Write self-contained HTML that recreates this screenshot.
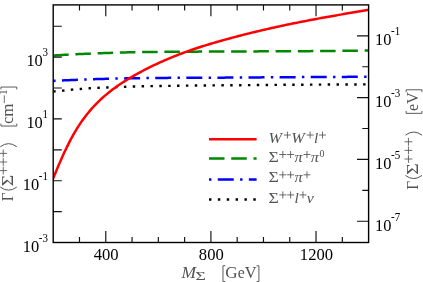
<!DOCTYPE html>
<html><head><meta charset="utf-8"><title>Plot</title>
<style>
html,body{margin:0;padding:0;background:#fff;}
body{width:423px;height:282px;overflow:hidden;position:relative;font-family:"Liberation Serif",serif;}
</style></head><body>
<svg width="423" height="282" viewBox="0 0 423 282" style="position:absolute;left:0;top:0;will-change:transform">
<rect x="0" y="0" width="423" height="282" fill="#fff"/>
<clipPath id="c"><rect x="53.2" y="4.9" width="315.40000000000003" height="237.6"/></clipPath>
<g clip-path="url(#c)" fill="none">
<path d="M53.20,91.50 L54.78,91.37 L56.37,91.23 L57.95,91.09 L59.54,90.94 L61.12,90.79 L62.71,90.63 L64.29,90.46 L65.88,90.28 L67.46,90.10 L69.04,89.91 L70.63,89.74 L72.21,89.58 L73.80,89.44 L75.38,89.31 L76.97,89.18 L78.55,89.06 L80.14,88.94 L81.72,88.83 L83.30,88.72 L84.89,88.61 L86.47,88.50 L88.06,88.40 L89.64,88.30 L91.23,88.21 L92.81,88.11 L94.39,88.02 L95.98,87.93 L97.56,87.85 L99.15,87.78 L100.73,87.71 L102.32,87.64 L103.90,87.58 L105.49,87.52 L107.07,87.46 L108.65,87.41 L110.24,87.35 L111.82,87.30 L113.41,87.24 L114.99,87.19 L116.58,87.13 L118.16,87.07 L119.75,87.01 L121.33,86.95 L122.91,86.89 L124.50,86.83 L126.08,86.78 L127.67,86.72 L129.25,86.67 L130.84,86.63 L132.42,86.58 L134.01,86.53 L135.59,86.49 L137.17,86.44 L138.76,86.40 L140.34,86.36 L141.93,86.32 L143.51,86.28 L145.10,86.25 L146.68,86.21 L148.27,86.18 L149.85,86.15 L151.43,86.13 L153.02,86.10 L154.60,86.07 L156.19,86.05 L157.77,86.03 L159.36,86.00 L160.94,85.98 L162.53,85.96 L164.11,85.94 L165.69,85.92 L167.28,85.90 L168.86,85.88 L170.45,85.87 L172.03,85.85 L173.62,85.83 L175.20,85.81 L176.78,85.79 L178.37,85.77 L179.95,85.75 L181.54,85.73 L183.12,85.71 L184.71,85.69 L186.29,85.67 L187.88,85.65 L189.46,85.63 L191.04,85.61 L192.63,85.59 L194.21,85.57 L195.80,85.55 L197.38,85.53 L198.97,85.51 L200.55,85.49 L202.14,85.48 L203.72,85.46 L205.30,85.45 L206.89,85.43 L208.47,85.42 L210.06,85.41 L211.64,85.40 L213.23,85.38 L214.81,85.37 L216.40,85.36 L217.98,85.35 L219.56,85.34 L221.15,85.33 L222.73,85.32 L224.32,85.31 L225.90,85.29 L227.49,85.28 L229.07,85.27 L230.66,85.26 L232.24,85.24 L233.82,85.23 L235.41,85.22 L236.99,85.20 L238.58,85.19 L240.16,85.18 L241.75,85.16 L243.33,85.15 L244.92,85.13 L246.50,85.12 L248.08,85.11 L249.67,85.09 L251.25,85.08 L252.84,85.07 L254.42,85.05 L256.01,85.04 L257.59,85.02 L259.17,85.01 L260.76,85.00 L262.34,84.98 L263.93,84.97 L265.51,84.95 L267.10,84.94 L268.68,84.93 L270.27,84.91 L271.85,84.90 L273.43,84.89 L275.02,84.88 L276.60,84.86 L278.19,84.85 L279.77,84.84 L281.36,84.83 L282.94,84.81 L284.53,84.80 L286.11,84.79 L287.69,84.78 L289.28,84.77 L290.86,84.76 L292.45,84.75 L294.03,84.74 L295.62,84.73 L297.20,84.72 L298.79,84.71 L300.37,84.70 L301.95,84.69 L303.54,84.68 L305.12,84.67 L306.71,84.66 L308.29,84.65 L309.88,84.65 L311.46,84.64 L313.05,84.63 L314.63,84.62 L316.21,84.61 L317.80,84.60 L319.38,84.60 L320.97,84.59 L322.55,84.58 L324.14,84.57 L325.72,84.56 L327.31,84.56 L328.89,84.55 L330.47,84.54 L332.06,84.53 L333.64,84.53 L335.23,84.52 L336.81,84.51 L338.40,84.51 L339.98,84.50 L341.56,84.49 L343.15,84.49 L344.73,84.48 L346.32,84.47 L347.90,84.47 L349.49,84.46 L351.07,84.46 L352.66,84.45 L354.24,84.44 L355.82,84.44 L357.41,84.43 L358.99,84.43 L360.58,84.42 L362.16,84.42 L363.75,84.41 L365.33,84.41 L366.92,84.40 L368.50,84.40" stroke="#000" stroke-width="2.4" stroke-dasharray="2.45 6.41"/>
<path d="M53.20,80.90 L54.78,80.82 L56.37,80.74 L57.95,80.66 L59.54,80.58 L61.12,80.50 L62.71,80.43 L64.29,80.35 L65.88,80.28 L67.46,80.21 L69.04,80.14 L70.63,80.07 L72.21,80.01 L73.80,79.94 L75.38,79.88 L76.97,79.81 L78.55,79.75 L80.14,79.69 L81.72,79.62 L83.30,79.56 L84.89,79.50 L86.47,79.45 L88.06,79.39 L89.64,79.33 L91.23,79.28 L92.81,79.22 L94.39,79.17 L95.98,79.12 L97.56,79.07 L99.15,79.02 L100.73,78.98 L102.32,78.93 L103.90,78.89 L105.49,78.85 L107.07,78.80 L108.65,78.76 L110.24,78.72 L111.82,78.68 L113.41,78.64 L114.99,78.60 L116.58,78.56 L118.16,78.52 L119.75,78.49 L121.33,78.45 L122.91,78.42 L124.50,78.39 L126.08,78.36 L127.67,78.34 L129.25,78.31 L130.84,78.29 L132.42,78.27 L134.01,78.24 L135.59,78.22 L137.17,78.20 L138.76,78.18 L140.34,78.16 L141.93,78.14 L143.51,78.12 L145.10,78.10 L146.68,78.08 L148.27,78.07 L149.85,78.05 L151.43,78.03 L153.02,78.02 L154.60,78.00 L156.19,77.98 L157.77,77.97 L159.36,77.95 L160.94,77.94 L162.53,77.93 L164.11,77.91 L165.69,77.90 L167.28,77.89 L168.86,77.87 L170.45,77.86 L172.03,77.85 L173.62,77.84 L175.20,77.83 L176.78,77.82 L178.37,77.81 L179.95,77.80 L181.54,77.79 L183.12,77.78 L184.71,77.77 L186.29,77.77 L187.88,77.76 L189.46,77.75 L191.04,77.75 L192.63,77.74 L194.21,77.73 L195.80,77.73 L197.38,77.72 L198.97,77.72 L200.55,77.71 L202.14,77.71 L203.72,77.70 L205.30,77.69 L206.89,77.69 L208.47,77.68 L210.06,77.68 L211.64,77.67 L213.23,77.67 L214.81,77.66 L216.40,77.66 L217.98,77.65 L219.56,77.65 L221.15,77.64 L222.73,77.63 L224.32,77.63 L225.90,77.62 L227.49,77.61 L229.07,77.60 L230.66,77.60 L232.24,77.59 L233.82,77.58 L235.41,77.57 L236.99,77.56 L238.58,77.55 L240.16,77.54 L241.75,77.53 L243.33,77.52 L244.92,77.51 L246.50,77.50 L248.08,77.49 L249.67,77.47 L251.25,77.46 L252.84,77.45 L254.42,77.44 L256.01,77.43 L257.59,77.41 L259.17,77.40 L260.76,77.39 L262.34,77.37 L263.93,77.36 L265.51,77.35 L267.10,77.34 L268.68,77.32 L270.27,77.31 L271.85,77.30 L273.43,77.29 L275.02,77.27 L276.60,77.26 L278.19,77.25 L279.77,77.24 L281.36,77.22 L282.94,77.21 L284.53,77.20 L286.11,77.19 L287.69,77.18 L289.28,77.17 L290.86,77.16 L292.45,77.15 L294.03,77.14 L295.62,77.13 L297.20,77.12 L298.79,77.11 L300.37,77.10 L301.95,77.09 L303.54,77.08 L305.12,77.07 L306.71,77.06 L308.29,77.06 L309.88,77.05 L311.46,77.04 L313.05,77.03 L314.63,77.02 L316.21,77.02 L317.80,77.01 L319.38,77.00 L320.97,76.99 L322.55,76.98 L324.14,76.98 L325.72,76.97 L327.31,76.96 L328.89,76.95 L330.47,76.95 L332.06,76.94 L333.64,76.93 L335.23,76.93 L336.81,76.92 L338.40,76.91 L339.98,76.90 L341.56,76.90 L343.15,76.89 L344.73,76.88 L346.32,76.88 L347.90,76.87 L349.49,76.87 L351.07,76.86 L352.66,76.85 L354.24,76.85 L355.82,76.84 L357.41,76.84 L358.99,76.83 L360.58,76.83 L362.16,76.82 L363.75,76.81 L365.33,76.81 L366.92,76.80 L368.50,76.80" stroke="#0000ff" stroke-width="2.5" stroke-dasharray="2.4 6.35 16 6.35"/>
<path d="M53.20,55.60 L54.78,55.48 L56.37,55.36 L57.95,55.24 L59.54,55.13 L61.12,55.02 L62.71,54.92 L64.29,54.82 L65.88,54.72 L67.46,54.63 L69.04,54.54 L70.63,54.46 L72.21,54.38 L73.80,54.30 L75.38,54.23 L76.97,54.16 L78.55,54.09 L80.14,54.02 L81.72,53.95 L83.30,53.89 L84.89,53.82 L86.47,53.76 L88.06,53.69 L89.64,53.63 L91.23,53.57 L92.81,53.51 L94.39,53.45 L95.98,53.39 L97.56,53.33 L99.15,53.27 L100.73,53.22 L102.32,53.16 L103.90,53.11 L105.49,53.05 L107.07,53.00 L108.65,52.94 L110.24,52.89 L111.82,52.84 L113.41,52.79 L114.99,52.73 L116.58,52.68 L118.16,52.62 L119.75,52.57 L121.33,52.52 L122.91,52.47 L124.50,52.43 L126.08,52.39 L127.67,52.35 L129.25,52.31 L130.84,52.28 L132.42,52.26 L134.01,52.23 L135.59,52.20 L137.17,52.18 L138.76,52.15 L140.34,52.13 L141.93,52.10 L143.51,52.08 L145.10,52.06 L146.68,52.04 L148.27,52.02 L149.85,52.00 L151.43,51.98 L153.02,51.96 L154.60,51.94 L156.19,51.93 L157.77,51.91 L159.36,51.89 L160.94,51.88 L162.53,51.86 L164.11,51.85 L165.69,51.84 L167.28,51.82 L168.86,51.81 L170.45,51.80 L172.03,51.78 L173.62,51.77 L175.20,51.76 L176.78,51.75 L178.37,51.74 L179.95,51.73 L181.54,51.72 L183.12,51.71 L184.71,51.70 L186.29,51.69 L187.88,51.68 L189.46,51.67 L191.04,51.66 L192.63,51.65 L194.21,51.65 L195.80,51.64 L197.38,51.63 L198.97,51.62 L200.55,51.61 L202.14,51.61 L203.72,51.60 L205.30,51.59 L206.89,51.58 L208.47,51.58 L210.06,51.57 L211.64,51.56 L213.23,51.55 L214.81,51.55 L216.40,51.54 L217.98,51.53 L219.56,51.52 L221.15,51.52 L222.73,51.51 L224.32,51.50 L225.90,51.50 L227.49,51.49 L229.07,51.48 L230.66,51.47 L232.24,51.47 L233.82,51.46 L235.41,51.46 L236.99,51.45 L238.58,51.44 L240.16,51.44 L241.75,51.43 L243.33,51.43 L244.92,51.42 L246.50,51.41 L248.08,51.41 L249.67,51.40 L251.25,51.40 L252.84,51.39 L254.42,51.39 L256.01,51.38 L257.59,51.38 L259.17,51.37 L260.76,51.37 L262.34,51.36 L263.93,51.36 L265.51,51.35 L267.10,51.34 L268.68,51.34 L270.27,51.33 L271.85,51.33 L273.43,51.32 L275.02,51.32 L276.60,51.31 L278.19,51.30 L279.77,51.30 L281.36,51.29 L282.94,51.28 L284.53,51.28 L286.11,51.27 L287.69,51.26 L289.28,51.26 L290.86,51.25 L292.45,51.24 L294.03,51.23 L295.62,51.22 L297.20,51.22 L298.79,51.21 L300.37,51.20 L301.95,51.19 L303.54,51.18 L305.12,51.17 L306.71,51.16 L308.29,51.15 L309.88,51.13 L311.46,51.12 L313.05,51.11 L314.63,51.10 L316.21,51.08 L317.80,51.07 L319.38,51.06 L320.97,51.04 L322.55,51.03 L324.14,51.01 L325.72,51.00 L327.31,50.98 L328.89,50.97 L330.47,50.95 L332.06,50.94 L333.64,50.92 L335.23,50.90 L336.81,50.89 L338.40,50.87 L339.98,50.85 L341.56,50.83 L343.15,50.82 L344.73,50.80 L346.32,50.78 L347.90,50.76 L349.49,50.74 L351.07,50.72 L352.66,50.70 L354.24,50.68 L355.82,50.66 L357.41,50.64 L358.99,50.62 L360.58,50.60 L362.16,50.58 L363.75,50.56 L365.33,50.54 L366.92,50.52 L368.50,50.50" stroke="#008800" stroke-width="2.5" stroke-dasharray="15.5 6.75"/>
<path d="M51.00,183.70 L52.50,180.02 L54.00,176.36 L55.50,172.73 L57.00,169.14 L58.50,165.60 L60.00,162.12 L61.50,158.70 L63.00,155.36 L64.50,152.09 L66.00,148.92 L67.50,145.83 L69.00,142.84 L70.50,139.95 L72.00,137.16 L73.50,134.46 L75.00,131.86 L76.50,129.36 L78.00,126.96 L79.50,124.64 L81.00,122.41 L82.50,120.26 L84.00,118.19 L85.50,116.20 L87.00,114.27 L88.50,112.42 L90.00,110.63 L91.50,108.90 L93.00,107.22 L94.50,105.61 L96.00,104.04 L97.50,102.52 L99.00,101.05 L100.50,99.63 L102.00,98.25 L103.50,96.90 L105.00,95.60 L106.50,94.33 L108.00,93.10 L109.50,91.90 L111.00,90.73 L112.50,89.60 L114.00,88.48 L115.50,87.40 L117.00,86.34 L118.50,85.30 L120.00,84.29 L121.50,83.29 L123.00,82.32 L124.50,81.36 L126.00,80.42 L127.50,79.50 L129.00,78.59 L130.50,77.70 L132.00,76.82 L133.50,75.95 L135.00,75.10 L136.50,74.26 L138.00,73.43 L139.50,72.61 L141.00,71.80 L142.50,71.00 L144.00,70.22 L145.50,69.44 L147.00,68.67 L148.50,67.92 L150.00,67.17 L151.50,66.43 L153.00,65.70 L154.50,64.98 L156.00,64.27 L157.50,63.57 L159.00,62.88 L160.50,62.20 L162.00,61.52 L163.50,60.86 L165.00,60.20 L166.50,59.55 L168.00,58.92 L169.50,58.28 L171.00,57.66 L172.50,57.05 L174.00,56.44 L175.50,55.84 L177.00,55.25 L178.50,54.67 L180.00,54.10 L181.50,53.53 L183.00,52.97 L184.50,52.42 L186.00,51.87 L187.50,51.34 L189.00,50.81 L190.50,50.28 L192.00,49.76 L193.50,49.25 L195.00,48.75 L196.50,48.25 L198.00,47.75 L199.50,47.26 L201.00,46.78 L202.50,46.30 L204.00,45.83 L205.50,45.36 L207.00,44.90 L208.50,44.44 L210.00,43.99 L211.50,43.54 L213.00,43.10 L214.50,42.65 L216.00,42.22 L217.50,41.78 L219.00,41.35 L220.50,40.93 L222.00,40.51 L223.50,40.09 L225.00,39.67 L226.50,39.26 L228.00,38.85 L229.50,38.44 L231.00,38.04 L232.50,37.64 L234.00,37.24 L235.50,36.84 L237.00,36.45 L238.50,36.06 L240.00,35.67 L241.50,35.29 L243.00,34.90 L244.50,34.52 L246.00,34.15 L247.50,33.77 L249.00,33.40 L250.50,33.03 L252.00,32.66 L253.50,32.30 L255.00,31.93 L256.50,31.57 L258.00,31.21 L259.50,30.86 L261.00,30.50 L262.50,30.15 L264.00,29.80 L265.50,29.46 L267.00,29.11 L268.50,28.77 L270.00,28.43 L271.50,28.09 L273.00,27.76 L274.50,27.42 L276.00,27.09 L277.50,26.76 L279.00,26.44 L280.50,26.11 L282.00,25.79 L283.50,25.47 L285.00,25.15 L286.50,24.83 L288.00,24.52 L289.50,24.21 L291.00,23.90 L292.50,23.59 L294.00,23.28 L295.50,22.98 L297.00,22.68 L298.50,22.38 L300.00,22.08 L301.50,21.78 L303.00,21.49 L304.50,21.20 L306.00,20.90 L307.50,20.61 L309.00,20.33 L310.50,20.04 L312.00,19.76 L313.50,19.47 L315.00,19.19 L316.50,18.91 L318.00,18.64 L319.50,18.36 L321.00,18.08 L322.50,17.81 L324.00,17.54 L325.50,17.27 L327.00,17.00 L328.50,16.73 L330.00,16.46 L331.50,16.19 L333.00,15.93 L334.50,15.66 L336.00,15.40 L337.50,15.14 L339.00,14.88 L340.50,14.62 L342.00,14.36 L343.50,14.10 L345.00,13.85 L346.50,13.59 L348.00,13.33 L349.50,13.08 L351.00,12.82 L352.50,12.57 L354.00,12.32 L355.50,12.07 L357.00,11.81 L358.50,11.56 L360.00,11.31 L361.50,11.06 L363.00,10.81 L364.50,10.56 L366.00,10.32 L367.50,10.07 L369.00,9.82 L370.50,9.57" stroke="#ff0000" stroke-width="2.5"/>
</g>
<path d="M209,139.2 H256.6" stroke="#ff0000" stroke-width="2.5"/>
<path d="M209,158.9 H256.6" stroke="#008800" stroke-width="2.5" stroke-dasharray="15.5 6.75" transform="translate(0,-0.3)"/>
<path d="M209,179.6 H256.6" stroke="#0000ff" stroke-width="2.5" stroke-dasharray="2.4 6.35 16 6.35"/>
<path d="M209,199.5 H256.6" stroke="#000" stroke-width="2.4" stroke-dasharray="2.45 6.41"/>
<path d="M53.2,211.60 h8.6 M53.2,180.70 h8.6 M53.2,149.80 h8.6 M53.2,118.90 h8.6 M53.2,88.00 h8.6 M53.2,57.10 h8.6 M53.2,26.20 h8.6 M368.6,221.20 h-11.6 M368.6,190.30 h-6.3 M368.6,159.40 h-11.6 M368.6,128.50 h-6.3 M368.6,97.60 h-11.6 M368.6,66.70 h-6.3 M368.6,35.80 h-11.6 M79.48,242.5 v-5.6 M79.48,4.9 v5.6 M105.77,242.5 v-11.4 M105.77,4.9 v11.4 M132.05,242.5 v-5.6 M132.05,4.9 v5.6 M158.33,242.5 v-5.6 M158.33,4.9 v5.6 M184.62,242.5 v-5.6 M184.62,4.9 v5.6 M210.90,242.5 v-11.4 M210.90,4.9 v11.4 M237.18,242.5 v-5.6 M237.18,4.9 v5.6 M263.47,242.5 v-5.6 M263.47,4.9 v5.6 M289.75,242.5 v-5.6 M289.75,4.9 v5.6 M316.03,242.5 v-11.4 M316.03,4.9 v11.4 M342.32,242.5 v-5.6 M342.32,4.9 v5.6" stroke="#111" stroke-width="1.15" fill="none"/>
<rect x="53.2" y="4.9" width="315.40000000000003" height="237.6" fill="none" stroke="#000" stroke-width="1.4"/>
<g font-family="Liberation Serif, serif" fill="#000">
<g transform="translate(26.40,66.00)"><text transform="scale(1,1.04)" font-size="16.4">10</text><text transform="translate(16.10,-9.7) scale(1,1.15)" font-size="11.0">3</text></g>
<g transform="translate(26.40,127.80)"><text transform="scale(1,1.04)" font-size="16.4">10</text><text transform="translate(16.10,-9.7) scale(1,1.15)" font-size="11.0">1</text></g>
<g transform="translate(22.74,189.60)"><text transform="scale(1,1.04)" font-size="16.4">10</text><text transform="translate(16.10,-9.7) scale(1,1.15)" font-size="11.0">-1</text></g>
<g transform="translate(22.74,252.10)"><text transform="scale(1,1.04)" font-size="16.4">10</text><text transform="translate(16.10,-9.7) scale(1,1.15)" font-size="11.0">-3</text></g>
<g transform="translate(375.00,45.10)"><text transform="scale(1,1.04)" font-size="16.4">10</text><text transform="translate(16.10,-9.9) scale(1,1.15)" font-size="11.0">-1</text></g>
<g transform="translate(375.00,106.90)"><text transform="scale(1,1.04)" font-size="16.4">10</text><text transform="translate(16.10,-9.9) scale(1,1.15)" font-size="11.0">-3</text></g>
<g transform="translate(375.00,168.70)"><text transform="scale(1,1.04)" font-size="16.4">10</text><text transform="translate(16.10,-9.9) scale(1,1.15)" font-size="11.0">-5</text></g>
<g transform="translate(375.00,230.50)"><text transform="scale(1,1.04)" font-size="16.4">10</text><text transform="translate(16.10,-9.9) scale(1,1.15)" font-size="11.0">-7</text></g>
<text transform="translate(106.17,260.3) scale(1,1.05)" font-size="16.6" text-anchor="middle">400</text>
<text transform="translate(211.30,260.3) scale(1,1.05)" font-size="16.6" text-anchor="middle">800</text>
<text transform="translate(316.43,260.3) scale(1,1.05)" font-size="16.6" text-anchor="middle">1200</text>
</g>
<g font-family="Liberation Serif, serif" fill="#525252">
<g transform="translate(181.6,277.6)"><text x="0.00" y="0.00" font-size="17.75" font-style="italic" textLength="14.56" lengthAdjust="spacingAndGlyphs">M</text><text x="13.93" y="2.53" font-size="12.42" textLength="10.38" lengthAdjust="spacingAndGlyphs">Σ</text><path d="M43.74,-11.85 H41.37 V3.95 H43.74" stroke="#525252" stroke-width="0.95" fill="none"/><text x="43.71" y="0.00" font-size="16.43" textLength="12.40" lengthAdjust="spacingAndGlyphs">G</text><text x="56.11" y="0.00" font-size="16.43" textLength="7.02" lengthAdjust="spacingAndGlyphs">e</text><text x="63.13" y="0.00" font-size="16.43" textLength="11.85" lengthAdjust="spacingAndGlyphs">V</text><path d="M74.95,-11.85 H77.32 V3.95 H74.95" stroke="#525252" stroke-width="0.95" fill="none"/></g>
<g transform="translate(12.8,201.3) rotate(-90)"><text x="0.00" y="0.00" font-size="16.43" textLength="8.85" lengthAdjust="spacingAndGlyphs">Γ</text><path d="M14.22,-12.48 Q8.06,-4.27 14.22,3.95" stroke="#525252" stroke-width="1.0" fill="none"/><text x="14.99" y="0.00" font-size="16.43" textLength="11.41" lengthAdjust="spacingAndGlyphs">Σ</text><path d="M26.83,-9.56 h7.74 M30.70,-13.43 v7.74" stroke="#525252" stroke-width="0.85" fill="none"/><path d="M35.44,-9.56 h7.74 M39.31,-13.43 v7.74" stroke="#525252" stroke-width="0.85" fill="none"/><path d="M44.04,-9.56 h7.74 M47.91,-13.43 v7.74" stroke="#525252" stroke-width="0.85" fill="none"/><path d="M54.57,-12.48 Q60.73,-4.27 54.57,3.95" stroke="#525252" stroke-width="1.0" fill="none"/><path d="M77.64,-11.85 H75.27 V3.95 H77.64" stroke="#525252" stroke-width="0.95" fill="none"/><text x="77.61" y="0.00" font-size="16.43" textLength="7.02" lengthAdjust="spacingAndGlyphs">c</text><text x="84.62" y="0.00" font-size="16.43" textLength="13.16" lengthAdjust="spacingAndGlyphs">m</text><path d="M98.21,-8.50 h7.74" stroke="#525252" stroke-width="0.85" fill="none"/><text x="106.39" y="-5.74" font-size="11.50" textLength="5.53" lengthAdjust="spacingAndGlyphs">1</text><path d="M111.89,-11.85 H114.26 V3.95 H111.89" stroke="#525252" stroke-width="0.95" fill="none"/></g>
<g transform="translate(418.0,189.7) rotate(-90)"><text x="0.00" y="0.00" font-size="16.43" textLength="8.85" lengthAdjust="spacingAndGlyphs">Γ</text><path d="M14.22,-12.48 Q8.06,-4.27 14.22,3.95" stroke="#525252" stroke-width="1.0" fill="none"/><text x="14.99" y="0.00" font-size="16.43" textLength="11.41" lengthAdjust="spacingAndGlyphs">Σ</text><path d="M26.83,-9.56 h7.74 M30.70,-13.43 v7.74" stroke="#525252" stroke-width="0.85" fill="none"/><path d="M35.44,-9.56 h7.74 M39.31,-13.43 v7.74" stroke="#525252" stroke-width="0.85" fill="none"/><path d="M44.04,-9.56 h7.74 M47.91,-13.43 v7.74" stroke="#525252" stroke-width="0.85" fill="none"/><path d="M54.57,-12.48 Q60.73,-4.27 54.57,3.95" stroke="#525252" stroke-width="1.0" fill="none"/><path d="M78.74,-11.85 H76.37 V3.95 H78.74" stroke="#525252" stroke-width="0.95" fill="none"/><text x="78.71" y="0.00" font-size="16.43" textLength="7.02" lengthAdjust="spacingAndGlyphs">e</text><text x="85.73" y="0.00" font-size="16.43" textLength="11.85" lengthAdjust="spacingAndGlyphs">V</text><path d="M97.55,-11.85 H99.92 V3.95 H97.55" stroke="#525252" stroke-width="0.95" fill="none"/></g>
<g transform="translate(268.6,142.6)"><text x="0.00" y="0.00" font-size="14.87" font-style="italic" textLength="13.50" lengthAdjust="spacingAndGlyphs">W</text><path d="M15.32,-7.58 h7.01 M18.82,-11.08 v7.01" stroke="#525252" stroke-width="0.85" fill="none"/><text x="22.72" y="0.00" font-size="14.87" font-style="italic" textLength="13.50" lengthAdjust="spacingAndGlyphs">W</text><path d="M38.04,-7.58 h7.01 M41.54,-11.08 v7.01" stroke="#525252" stroke-width="0.85" fill="none"/><text x="45.43" y="0.00" font-size="14.87" font-style="italic" textLength="4.26" lengthAdjust="spacingAndGlyphs">l</text><path d="M50.37,-7.58 h7.01 M53.88,-11.08 v7.01" stroke="#525252" stroke-width="0.85" fill="none"/></g>
<g transform="translate(268.6,162.1)"><text x="0.00" y="0.00" font-size="14.87" textLength="10.32" lengthAdjust="spacingAndGlyphs">Σ</text><path d="M10.71,-7.58 h7.01 M14.22,-11.08 v7.01" stroke="#525252" stroke-width="0.85" fill="none"/><path d="M18.50,-7.58 h7.01 M22.01,-11.08 v7.01" stroke="#525252" stroke-width="0.85" fill="none"/><text x="25.90" y="0.00" font-size="14.87" font-style="italic" textLength="8.15" lengthAdjust="spacingAndGlyphs">π</text><path d="M34.87,-7.58 h7.01 M38.37,-11.08 v7.01" stroke="#525252" stroke-width="0.85" fill="none"/><text x="42.27" y="0.00" font-size="14.87" font-style="italic" textLength="8.15" lengthAdjust="spacingAndGlyphs">π</text><text x="50.85" y="-5.08" font-size="10.41" textLength="5.00" lengthAdjust="spacingAndGlyphs">0</text></g>
<g transform="translate(268.6,182.4)"><text x="0.00" y="0.00" font-size="14.87" textLength="10.32" lengthAdjust="spacingAndGlyphs">Σ</text><path d="M10.71,-7.58 h7.01 M14.22,-11.08 v7.01" stroke="#525252" stroke-width="0.85" fill="none"/><path d="M18.50,-7.58 h7.01 M22.01,-11.08 v7.01" stroke="#525252" stroke-width="0.85" fill="none"/><text x="25.90" y="0.00" font-size="14.87" font-style="italic" textLength="8.15" lengthAdjust="spacingAndGlyphs">π</text><path d="M34.87,-7.58 h7.01 M38.37,-11.08 v7.01" stroke="#525252" stroke-width="0.85" fill="none"/></g>
<g transform="translate(268.6,202.5)"><text x="0.00" y="0.00" font-size="14.87" textLength="10.32" lengthAdjust="spacingAndGlyphs">Σ</text><path d="M10.71,-7.58 h7.01 M14.22,-11.08 v7.01" stroke="#525252" stroke-width="0.85" fill="none"/><path d="M18.50,-7.58 h7.01 M22.01,-11.08 v7.01" stroke="#525252" stroke-width="0.85" fill="none"/><text x="25.90" y="0.00" font-size="14.87" font-style="italic" textLength="4.26" lengthAdjust="spacingAndGlyphs">l</text><path d="M30.84,-7.58 h7.01 M34.34,-11.08 v7.01" stroke="#525252" stroke-width="0.85" fill="none"/><text x="38.24" y="0.00" font-size="14.87" font-style="italic" textLength="7.06" lengthAdjust="spacingAndGlyphs">ν</text></g>
</g>
</svg>
</body></html>
